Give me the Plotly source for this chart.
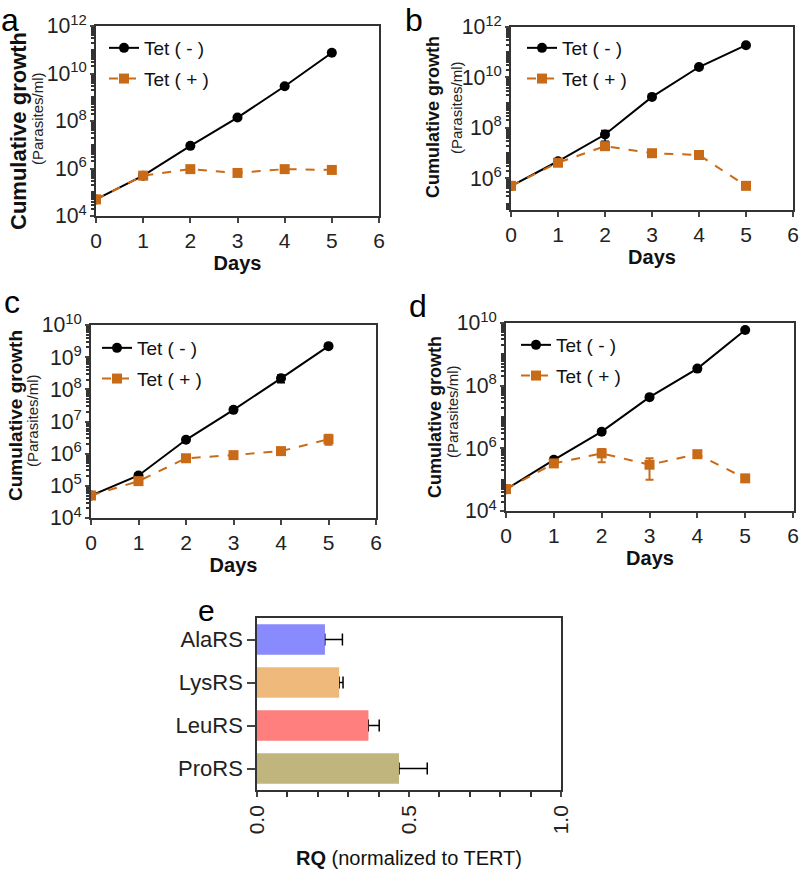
import plotly.graph_objects as go

W, H = 800, 878

days = [0, 1, 2, 3, 4, 5]

# panel a
a_minus = [5e4, 5e5, 9e6, 1.4e8, 2.9e9, 7.5e10]
a_plus = [5e4, 5e5, 9.4e5, 6.5e5, 9.4e5, 8.7e5]
# panel b
b_minus = [5e5, 4.8e6, 5.5e7, 1.7e9, 2.6e10, 1.9e11]
b_minus_err = [0, 0, 2.5e7, 0, 5e9, 0]
b_plus = [5.1e5, 4.2e6, 1.9e7, 1.0e7, 8.5e6, 5.1e5]
b_plus_err = [0, 0, 4e6, 2e6, 0, 0]
# panel c
c_minus = [5e4, 2.1e5, 2.7e6, 2.3e7, 2.2e8, 2.2e9]
c_minus_err = [0, 4e4, 0, 0, 6e7, 0]
c_plus = [5e4, 1.4e5, 7.2e5, 9e5, 1.2e6, 2.8e6]
c_plus_hi = [0, 0, 0, 0, 0, 1.1e6]
c_plus_lo = [0, 0, 0, 0, 0, 0.9e6]
# panel d
d_minus = [4.9e4, 4.3e5, 3.4e6, 4.3e7, 3.5e8, 6e9]
d_plus = [5e4, 3.3e5, 6.9e5, 3e5, 6.5e5, 1.1e5]
d_plus_hi = [0, 0, 2.6e5, 1.8e5, 1e5, 0]
d_plus_lo = [0, 0, 3.3e5, 2e5, 1e5, 0]
# panel e
genes = ["AlaRS", "LysRS", "LeuRS", "ProRS"]
rq = [0.223, 0.270, 0.366, 0.467]
rq_err = [0.058, 0.013, 0.036, 0.093]
gene_colors = ["#8a8aff", "#f0b97c", "#ff7f7f", "#c0b57c"]

BLACK = "#000000"
ORANGE = "#c96a16"
FONT = "Liberation Sans, Arial"


def px(x):
    return x / W


def py(y):
    return 1 - y / H


fig = go.Figure()

panels = [
    # suffix, minus, minus_err, plus, plus_hi, plus_lo, xdom(px), ydom(px), yrange, dtick,
    # legend pos, title (x off, y, size), paren (x off, y), x range
    ("", a_minus, None, a_plus, None, None, (96, 379), (26, 216), [4, 12], 2,
     (104, 29), (-78, 131, 22), (-59, 119), [0, 6]),
    ("2", b_minus, b_minus_err, b_plus, b_plus_err, b_plus_err, (511, 793), (27, 210), [4.75, 12], 2,
     (522, 29), (-78, 117, 18), (-55, 107), [0, 6]),
    ("3", c_minus, c_minus_err, c_plus, c_plus_hi, c_plus_lo, (91, 376), (325, 518), [4, 10], 1,
     (97, 329), (-76, 416, 19), (-59, 421), [0, 6]),
    ("4", d_minus, None, d_plus, d_plus_hi, d_plus_lo, (506, 794), (323, 511), [4, 10], 2,
     (516, 326), (-71, 417, 18), (-54, 411), [0, 6.02]),
]

for n, ym, ym_err, yp, yp_hi, yp_lo, xd, yd, yr, dt, lg, tt, pt, xr in panels:
    leg = "legend" + n
    xa = "x" + n
    ya = "y" + n
    err_m = dict(type="data", array=ym_err, color=BLACK, thickness=1.5, width=4) if ym_err else None
    err_p = (dict(type="data", array=yp_hi, arrayminus=yp_lo, symmetric=False,
                  color=ORANGE, thickness=2, width=4) if yp_hi else None)
    fig.add_trace(go.Scatter(
        x=days, y=ym, name="Tet ( - )", mode="lines+markers",
        line=dict(color=BLACK, width=2), marker=dict(symbol="circle", size=10, color=BLACK),
        error_y=err_m, xaxis=xa, yaxis=ya, legend=leg, legendgroup="m" + n))
    fig.add_trace(go.Scatter(
        x=days, y=yp, name="Tet ( + )", mode="lines+markers",
        line=dict(color=ORANGE, width=2, dash="dash"), marker=dict(symbol="square", size=10, color=ORANGE),
        error_y=err_p, xaxis=xa, yaxis=ya, legend=leg, legendgroup="p" + n))

    fig.layout["xaxis" + n] = dict(
        domain=[px(xd[0]), px(xd[1])], anchor=ya, range=xr,
        tickvals=[0, 1, 2, 3, 4, 5, 6], automargin=False,
        ticks="outside", ticklen=5, tickwidth=1.5, showgrid=False, zeroline=False,
        showline=True, mirror=True, linecolor="#333", linewidth=1.5,
        tickfont=dict(size=21, color="#222"), ticklabeloverflow="allow",
        title=dict(text="<b>Days</b>", font=dict(size=20, color="#111"), standoff=2))
    fig.layout["yaxis" + n] = dict(
        domain=[py(yd[1]), py(yd[0])], anchor=xa, type="log", range=yr, dtick=dt,
        exponentformat="power", ticks="outside", ticklen=4, tickwidth=1.5, automargin=False,
        showgrid=False, zeroline=False, showline=True, mirror=True,
        linecolor="#333", linewidth=1.5, tickfont=dict(size=17, color="#222"),
        minor=dict(ticks="outside", ticklen=3, dtick="D1", showgrid=False, tickcolor="#333"))
    fig.layout[leg] = dict(
        x=px(lg[0]), y=py(lg[1]), xanchor="left", yanchor="top", bgcolor="rgba(0,0,0,0)",
        font=dict(size=19, color="#111", family=FONT), tracegroupgap=3, itemwidth=30)

    # y-axis titles
    fig.add_annotation(x=px(xd[0] + tt[0]), y=py(tt[1]), xref="paper", yref="paper",
                       xanchor="center", yanchor="middle",
                       text="<b>Cumulative growth</b>", textangle=-90, showarrow=False,
                       font=dict(size=tt[2], color="#111"))
    fig.add_annotation(x=px(xd[0] + pt[0]), y=py(pt[1]), xref="paper", yref="paper",
                       xanchor="center", yanchor="middle",
                       text="(Parasites/ml)", textangle=-90, showarrow=False,
                       font=dict(size=15, color="#222"))

# panel e: bars with one-sided error bars, a plain copy on top hides the inner cap
fig.add_trace(go.Bar(
    x=rq, y=genes, orientation="h", marker=dict(color=gene_colors, line=dict(width=0)),
    error_x=dict(type="data", array=rq_err, arrayminus=[0] * 4, symmetric=False,
                 color=BLACK, thickness=1.5, width=6),
    width=0.7, showlegend=False, xaxis="x5", yaxis="y5"))
fig.add_trace(go.Bar(
    x=rq, y=genes, orientation="h", marker=dict(color=gene_colors, line=dict(width=0)),
    width=0.7, showlegend=False, xaxis="x5", yaxis="y5"))
fig.layout["xaxis5"] = dict(
    domain=[px(257), px(561)], anchor="y5", range=[0, 1], dtick=0.5, tickformat=".1f",
    tickangle=-90, ticks="outside", ticklen=5, tickwidth=1.5, showgrid=False, zeroline=False,
    showline=True, mirror=True, linecolor="#333", linewidth=1.5, automargin=False,
    tickfont=dict(size=21, color="#222"),
    minor=dict(ticks="outside", ticklen=5, dtick=0.1, tickcolor="#333"),
    title=dict(text="<b>RQ</b> (normalized to TERT)", font=dict(size=20, color="#111"), standoff=18))
fig.layout["yaxis5"] = dict(
    domain=[py(790), py(618)], anchor="x5", autorange="reversed", automargin=False,
    ticks="outside", ticklen=8, tickwidth=1.5, showgrid=False, zeroline=False,
    showline=True, mirror=True, linecolor="#333", linewidth=1.5,
    tickfont=dict(size=22, color="#222"))

# panel letters
for letter, lx, ly, fs in [("a", 10, 0, 32), ("b", 414, 0, 32), ("c", 12, 282, 32),
                           ("d", 418, 286, 32), ("e", 207, 592, 30)]:
    fig.add_annotation(x=px(lx), y=py(ly), xref="paper", yref="paper", text=letter,
                       xanchor="center", yanchor="top",
                       showarrow=False, font=dict(size=fs, color="#000"))

fig.update_layout(
    width=W, height=H, margin=dict(l=0, r=0, t=0, b=0),
    paper_bgcolor="white", plot_bgcolor="white", barmode="overlay",
    font=dict(family=FONT, color="#111"),
)

fig.write_html("out.html", config={"displayModeBar": False},
               post_script="document.body.style.margin='0';")
